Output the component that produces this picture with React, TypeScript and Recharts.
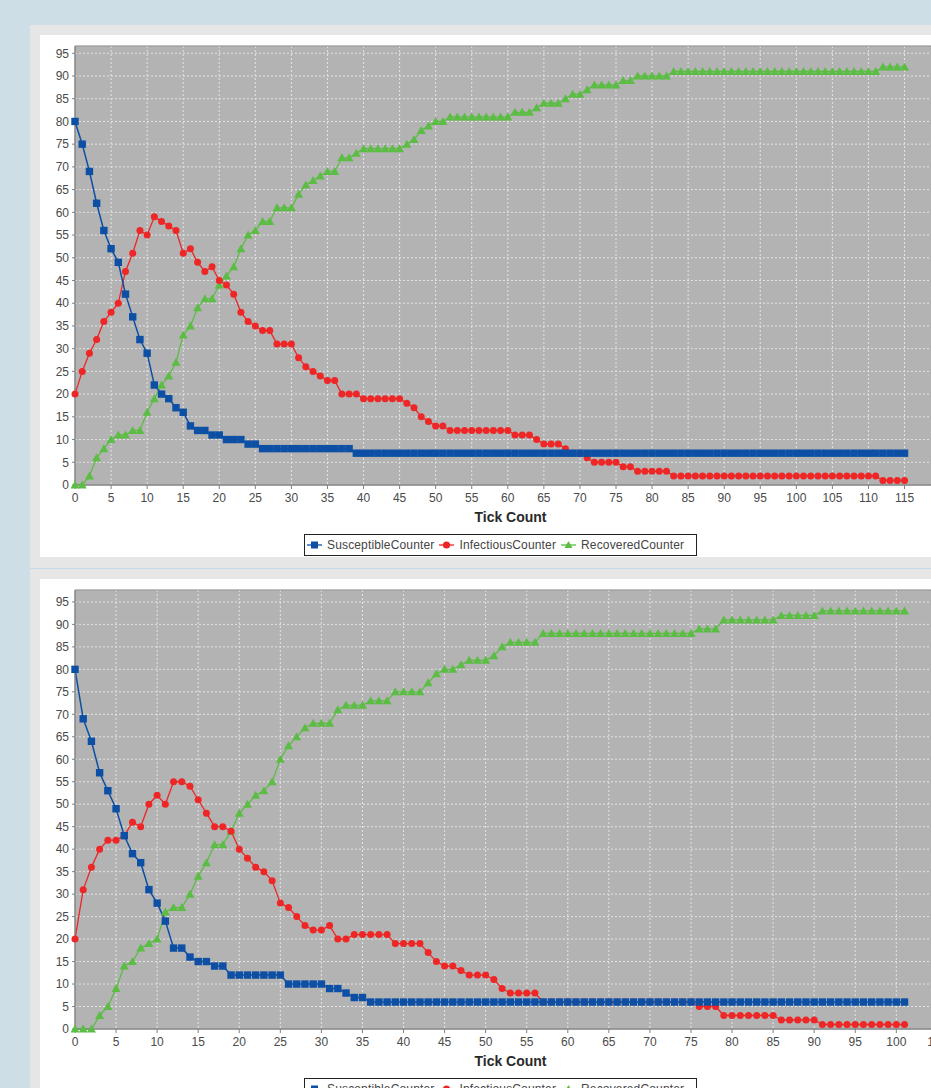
import React from 'react';
import { LineChart, Line, XAxis, YAxis, CartesianGrid, ReferenceArea, Label } from 'recharts';

// run 1 (top panel), ticks 0..115
const topSusceptible = [
  80, 75, 69, 62, 56, 52, 49, 42, 37, 32,
  29, 22, 20, 19, 17, 16, 13, 12, 12, 11,
  11, 10, 10, 10, 9, 9, 8, 8, 8, 8,
  8, 8, 8, 8, 8, 8, 8, 8, 8, 7,
  7, 7, 7, 7, 7, 7, 7, 7, 7, 7,
  7, 7, 7, 7, 7, 7, 7, 7, 7, 7,
  7, 7, 7, 7, 7, 7, 7, 7, 7, 7,
  7, 7, 7, 7, 7, 7, 7, 7, 7, 7,
  7, 7, 7, 7, 7, 7, 7, 7, 7, 7,
  7, 7, 7, 7, 7, 7, 7, 7, 7, 7,
  7, 7, 7, 7, 7, 7, 7, 7, 7, 7,
  7, 7, 7, 7, 7, 7,
];
const topInfectious = [
  20, 25, 29, 32, 36, 38, 40, 47, 51, 56,
  55, 59, 58, 57, 56, 51, 52, 49, 47, 48,
  45, 44, 42, 38, 36, 35, 34, 34, 31, 31,
  31, 28, 26, 25, 24, 23, 23, 20, 20, 20,
  19, 19, 19, 19, 19, 19, 18, 17, 15, 14,
  13, 13, 12, 12, 12, 12, 12, 12, 12, 12,
  12, 11, 11, 11, 10, 9, 9, 9, 8, 7,
  7, 6, 5, 5, 5, 5, 4, 4, 3, 3,
  3, 3, 3, 2, 2, 2, 2, 2, 2, 2,
  2, 2, 2, 2, 2, 2, 2, 2, 2, 2,
  2, 2, 2, 2, 2, 2, 2, 2, 2, 2,
  2, 2, 1, 1, 1, 1,
];
const topRecovered = [
  0, 0, 2, 6, 8, 10, 11, 11, 12, 12,
  16, 19, 22, 24, 27, 33, 35, 39, 41, 41,
  44, 46, 48, 52, 55, 56, 58, 58, 61, 61,
  61, 64, 66, 67, 68, 69, 69, 72, 72, 73,
  74, 74, 74, 74, 74, 74, 75, 76, 78, 79,
  80, 80, 81, 81, 81, 81, 81, 81, 81, 81,
  81, 82, 82, 82, 83, 84, 84, 84, 85, 86,
  86, 87, 88, 88, 88, 88, 89, 89, 90, 90,
  90, 90, 90, 91, 91, 91, 91, 91, 91, 91,
  91, 91, 91, 91, 91, 91, 91, 91, 91, 91,
  91, 91, 91, 91, 91, 91, 91, 91, 91, 91,
  91, 91, 92, 92, 92, 92,
];

// run 2 (bottom panel), ticks 0..101
const bottomSusceptible = [
  80, 69, 64, 57, 53, 49, 43, 39, 37, 31,
  28, 24, 18, 18, 16, 15, 15, 14, 14, 12,
  12, 12, 12, 12, 12, 12, 10, 10, 10, 10,
  10, 9, 9, 8, 7, 7, 6, 6, 6, 6,
  6, 6, 6, 6, 6, 6, 6, 6, 6, 6,
  6, 6, 6, 6, 6, 6, 6, 6, 6, 6,
  6, 6, 6, 6, 6, 6, 6, 6, 6, 6,
  6, 6, 6, 6, 6, 6, 6, 6, 6, 6,
  6, 6, 6, 6, 6, 6, 6, 6, 6, 6,
  6, 6, 6, 6, 6, 6, 6, 6, 6, 6,
  6, 6,
];
const bottomInfectious = [
  20, 31, 36, 40, 42, 42, 43, 46, 45, 50,
  52, 50, 55, 55, 54, 51, 48, 45, 45, 44,
  40, 38, 36, 35, 33, 28, 27, 25, 23, 22,
  22, 23, 20, 20, 21, 21, 21, 21, 21, 19,
  19, 19, 19, 17, 15, 14, 14, 13, 12, 12,
  12, 11, 9, 8, 8, 8, 8, 6, 6, 6,
  6, 6, 6, 6, 6, 6, 6, 6, 6, 6,
  6, 6, 6, 6, 6, 6, 5, 5, 5, 3,
  3, 3, 3, 3, 3, 3, 2, 2, 2, 2,
  2, 1, 1, 1, 1, 1, 1, 1, 1, 1,
  1, 1,
];
const bottomRecovered = [
  0, 0, 0, 3, 5, 9, 14, 15, 18, 19,
  20, 26, 27, 27, 30, 34, 37, 41, 41, 44,
  48, 50, 52, 53, 55, 60, 63, 65, 67, 68,
  68, 68, 71, 72, 72, 72, 73, 73, 73, 75,
  75, 75, 75, 77, 79, 80, 80, 81, 82, 82,
  82, 83, 85, 86, 86, 86, 86, 88, 88, 88,
  88, 88, 88, 88, 88, 88, 88, 88, 88, 88,
  88, 88, 88, 88, 88, 88, 89, 89, 89, 91,
  91, 91, 91, 91, 91, 91, 92, 92, 92, 92,
  92, 93, 93, 93, 93, 93, 93, 93, 93, 93,
  93, 93,
];

const yTicks = [0, 5, 10, 15, 20, 25, 30, 35, 40, 45, 50, 55, 60, 65, 70, 75, 80, 85, 90, 95];
const topXTicks = [0, 5, 10, 15, 20, 25, 30, 35, 40, 45, 50, 55, 60, 65, 70, 75, 80, 85, 90, 95, 100, 105, 110, 115, 120];
const bottomXTicks = [0, 5, 10, 15, 20, 25, 30, 35, 40, 45, 50, 55, 60, 65, 70, 75, 80, 85, 90, 95, 100, 105];
const seriesNames = ['SusceptibleCounter', 'InfectiousCounter', 'RecoveredCounter'];

const BLUE = '#0c4fa4';
const RED = '#ee2626';
const GREEN = '#5cbd45';
const FONT = '"Liberation Sans", Arial, sans-serif';

const squareDot = (p: any) => {
  if (p.cx == null || p.cy == null) return <g key={`s-${p.index}`} />;
  return <rect key={`s-${p.index}`} x={p.cx - 3.7} y={p.cy - 3.7} width={7.4} height={7.4} fill={BLUE} />;
};
const circleDot = (p: any) => {
  if (p.cx == null || p.cy == null) return <g key={`c-${p.index}`} />;
  return <circle key={`c-${p.index}`} cx={p.cx} cy={p.cy} r={3.5} fill={RED} />;
};
const triangleDot = (p: any) => {
  if (p.cx == null || p.cy == null) return <g key={`t-${p.index}`} />;
  const { cx, cy } = p;
  return (
    <polygon
      key={`t-${p.index}`}
      points={`${cx},${cy - 4.5} ${cx - 4.5},${cy + 3.5} ${cx + 4.5},${cy + 3.5}`}
      fill={GREEN}
    />
  );
};

const LegendIcon = ({ kind }: { kind: number }) => {
  const col = [BLUE, RED, GREEN][kind];
  return (
    <svg width={15} height={10} style={{ display: 'block' }}>
      <line x1={0} y1={5} x2={15} y2={5} stroke={col} strokeWidth={1.3} />
      {kind === 0 && <rect x={4} y={1.5} width={7} height={7} fill={col} />}
      {kind === 1 && <circle cx={7.5} cy={5} r={3.6} fill={col} />}
      {kind === 2 && <polygon points="7.5,1 3.5,8 11.5,8" fill={col} />}
    </svg>
  );
};

const LegendBox = ({ top }: { top: number }) => (
  <div
    style={{
      position: 'absolute',
      left: 304,
      top,
      width: 389,
      height: 20,
      border: '1px solid #222',
      background: '#fff',
      display: 'flex',
      alignItems: 'center',
      paddingLeft: 2,
      boxSizing: 'content-box',
      fontFamily: FONT,
      fontSize: 12,
      letterSpacing: 0.15,
      color: '#444',
      whiteSpace: 'nowrap',
    }}
  >
    {seriesNames.map((name, k) => (
      <div key={name} style={{ display: 'flex', alignItems: 'center', marginRight: 5 }}>
        <LegendIcon kind={k} />
        <span style={{ marginLeft: 5 }}>{name}</span>
      </div>
    ))}
  </div>
);

type ChartProps = {
  top: number;
  s: number[];
  inf: number[];
  rec: number[];
  xMax: number;
  yMax: number;
  xTicks: number[];
};

const SirChart = ({ top, s, inf, rec, xMax, yMax, xTicks }: ChartProps) => {
  const data = s.map((v, k) => ({ tick: k, s: v, i: inf[k], r: rec[k] }));
  return (
    <>
      <div style={{ position: 'absolute', left: 40, top }}>
        <LineChart width={919} height={492} data={data} margin={{ top: 11, right: 13, left: 5, bottom: 0 }}>
          <CartesianGrid stroke="#e4e4e4" strokeDasharray="2 2" fill="#b3b3b3" />
          <ReferenceArea x1={0} x2={xMax} y1={0} y2={yMax} fill="none" stroke="#8a8a8a" strokeWidth={1} />
          <XAxis
            type="number"
            dataKey="tick"
            domain={[0, xMax]}
            ticks={xTicks}
            interval={0}
            height={42}
            tickSize={4}
            tickMargin={4}
            stroke="#808080"
            tick={{ fill: '#4a4a4a', fontSize: 12, fontFamily: FONT }}
          >
            <Label
              content={(p: any) => {
                const vb = p.viewBox || { x: 75, y: 485, width: 871 };
                return (
                  <text
                    x={vb.x + vb.width / 2}
                    y={vb.y + 37}
                    textAnchor="middle"
                    fontFamily={FONT}
                    fontSize={14}
                    fontWeight="bold"
                    fill="#2a2a2a"
                  >
                    Tick Count
                  </text>
                );
              }}
            />
          </XAxis>
          <YAxis
            type="number"
            domain={[0, yMax]}
            ticks={yTicks}
            interval={0}
            width={30}
            tickSize={3}
            tickMargin={3}
            stroke="#808080"
            tick={{ fill: '#4a4a4a', fontSize: 12, fontFamily: FONT }}
          />
          <Line dataKey="r" stroke={GREEN} strokeWidth={1.3} dot={triangleDot} isAnimationActive={false} />
          <Line dataKey="i" stroke={RED} strokeWidth={1.3} dot={circleDot} isAnimationActive={false} />
          <Line dataKey="s" stroke={BLUE} strokeWidth={1.5} dot={squareDot} isAnimationActive={false} />
        </LineChart>
      </div>
      <LegendBox top={top + 499} />
    </>
  );
};

export default function App() {
  return (
    <div
      style={{
        position: 'fixed',
        left: 0,
        top: 0,
        width: 931,
        height: 1088,
        overflow: 'hidden',
        background: '#cddee6',
      }}
    >
      <div style={{ position: 'absolute', left: 30, top: 25, width: 901, height: 1063, background: '#e6e6e6' }} />
      <div style={{ position: 'absolute', left: 30, top: 568, width: 901, height: 1, background: '#c4dbe9' }} />
      <div style={{ position: 'absolute', left: 40, top: 35, width: 891, height: 522, background: '#fff' }} />
      <div style={{ position: 'absolute', left: 40, top: 579, width: 891, height: 509, background: '#fff' }} />
      <SirChart
        top={35}
        s={topSusceptible}
        inf={topInfectious}
        rec={topRecovered}
        xMax={120.75}
        yMax={96.6}
        xTicks={topXTicks}
      />
      <SirChart
        top={579}
        s={bottomSusceptible}
        inf={bottomInfectious}
        rec={bottomRecovered}
        xMax={106.05}
        yMax={97.65}
        xTicks={bottomXTicks}
      />
    </div>
  );
}
